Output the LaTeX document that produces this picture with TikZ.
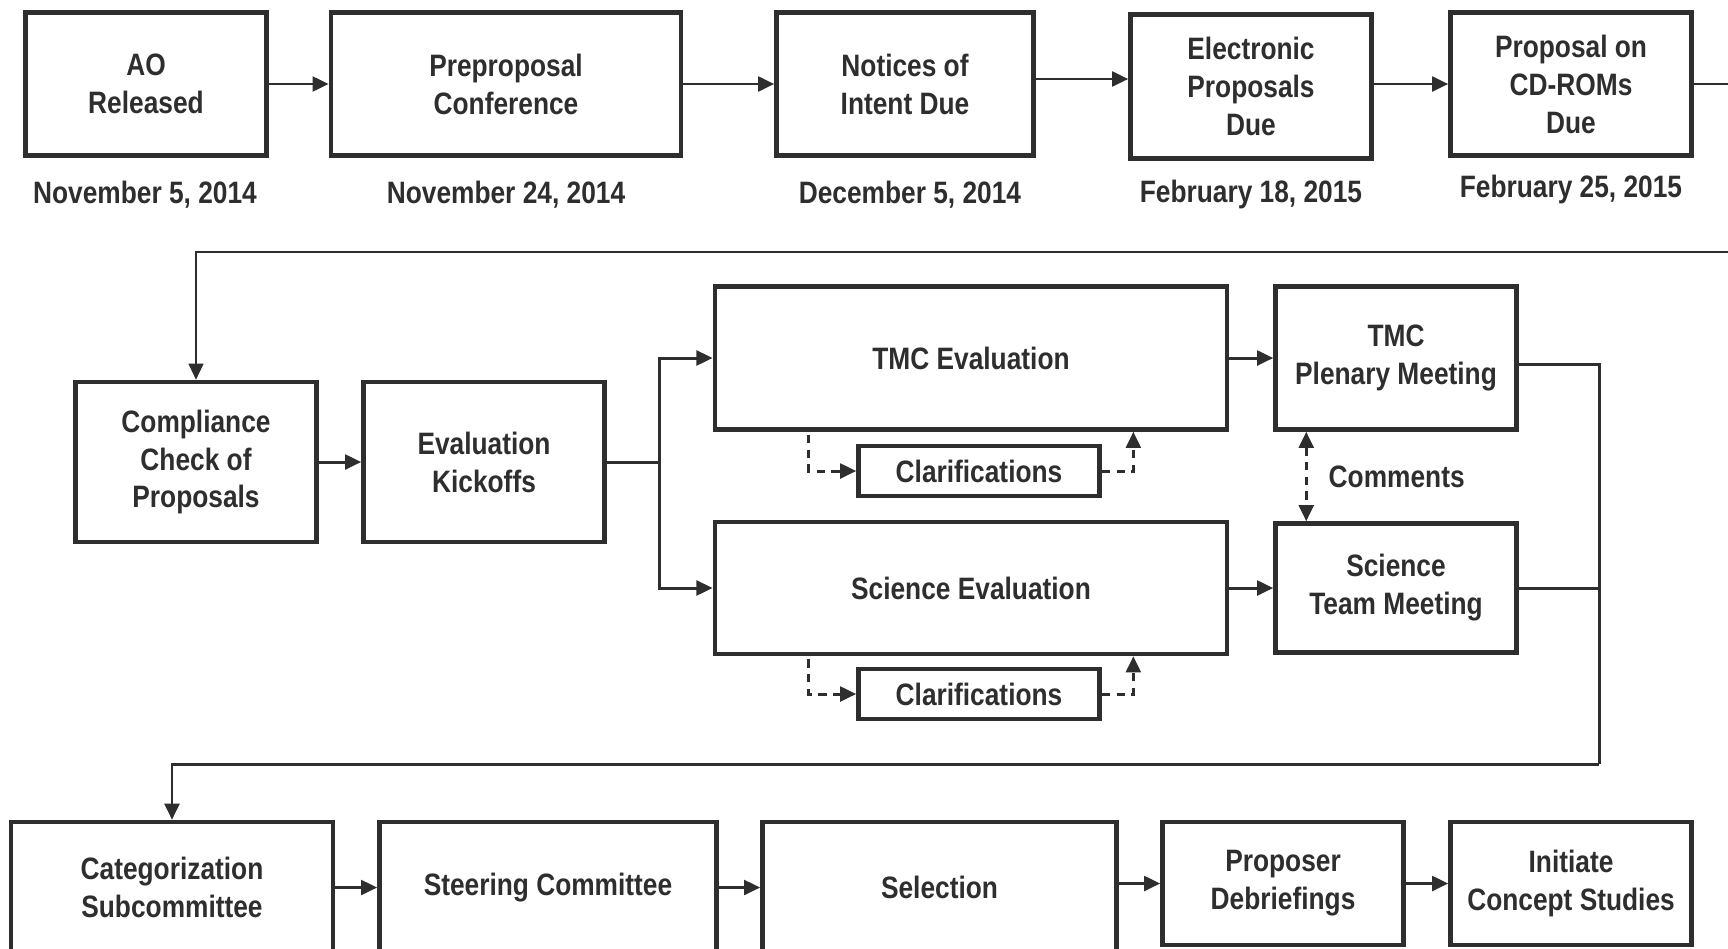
\documentclass[tikz,border=0pt]{standalone}
\usepackage{fontspec}
\setmainfont[FakeStretch=0.85]{Liberation Sans}
\usetikzlibrary{arrows.meta,calc}
\definecolor{ink}{HTML}{2E2E2E}

\begin{document}
\begin{tikzpicture}[x=0.01cm,y=-0.01cm,
  box/.style={draw=ink,line width=1.25pt,fill=white,inner sep=0pt,align=center,text=ink,
    font=\bfseries\fontsize{8.8}{10.8}\selectfont},
  datelabel/.style={text=ink,inner sep=0pt,font=\bfseries\fontsize{8.8}{10.8}\selectfont},
  plain/.style={draw=ink,line width=0.85pt},
  link/.style={plain,-{Triangle[length=4.6pt,width=4.2pt]}},
  dlink/.style={link,dash pattern=on 2.4pt off 1.8pt},
  ddlink/.style={dlink,{Triangle[length=4.6pt,width=4.2pt]}-{Triangle[length=4.6pt,width=4.2pt]}}]
\useasboundingbox (0,0) rectangle (1728,948);
\clip (0,0) rectangle (1728,948);

\node[box,minimum width=2.41cm,minimum height=1.43cm] (ao) at (146,84) {AO\\Released};
\node[box,minimum width=3.50cm,minimum height=1.43cm] (prep) at (506,84) {Preproposal\\Conference};
\node[box,minimum width=2.57cm,minimum height=1.43cm] (noi) at (905,84) {Notices of\\Intent Due};
\node[box,minimum width=2.41cm,minimum height=1.44cm] (elec) at (1251,86.5) {Electronic\\Proposals\\Due};
\node[box,minimum width=2.41cm,minimum height=1.43cm] (cdrom) at (1571,84) {Proposal on\\CD-ROMs\\Due};

\node[datelabel] (ao date) at (145,195) {November 5, 2014};
\node[datelabel] (prep date) at (506,195) {November 24, 2014};
\node[datelabel] (noi date) at (910,195) {December 5, 2014};
\node[datelabel] (elec date) at (1251,194) {February 18, 2015};
\node[datelabel] (cdrom date) at (1571,189.5) {February 25, 2015};

\coordinate (edge top) at (1728,84);
\coordinate (edge back) at (1728,252);

\draw[link] (ao) -- (prep);
\draw[link] (prep) -- (noi);
\draw[link] ([yshift=0.05cm]noi.east) coordinate (noi out) -- (noi out -| elec.west);
\draw[link] (cdrom.west -| elec.east) -- (cdrom.west);
\draw[plain] (cdrom.east) -- (edge top);

\node[box,minimum width=2.41cm,minimum height=1.60cm] (comp) at (196,462) {Compliance\\Check of\\Proposals};
\node[box,minimum width=2.41cm,minimum height=1.60cm] (kick) at (484,462) {Evaluation\\Kickoffs};
\node[box,minimum width=5.12cm,minimum height=1.43cm] (tmc) at (971,358) {TMC Evaluation};
\node[box,minimum width=2.41cm,minimum height=1.43cm] (plen) at (1396,358) {TMC\\Plenary Meeting};
\node[box,minimum width=5.12cm,minimum height=1.32cm] (sci) at (971,588) {Science Evaluation};
\node[box,minimum width=2.41cm,minimum height=1.29cm] (team) at (1396,588) {Science\\Team Meeting};
\node[box,minimum width=2.41cm,minimum height=0.50cm] (clar tmc) at (979,471) {Clarifications};
\node[box,minimum width=2.41cm,minimum height=0.50cm] (clar sci) at (979,694) {Clarifications};
\node[datelabel,anchor=west] (comments) at (1328,477) {Comments};

\coordinate (fork) at (659,462);
\coordinate (bus) at (1599,764);

\draw[link,line width=0.65pt] (edge back) -| (comp.north);
\draw[link] (comp) -- (kick);
\draw[plain] (kick) -- (fork);
\draw[link] (fork) |- (tmc);
\draw[link] (fork) |- (sci);
\draw[link] (tmc) -- (plen);
\draw[link] (sci) -- (team);

\draw[dlink] ($(tmc.south west)+(96,3)$) |- (clar tmc);
\draw[dlink] (clar tmc) -| ($(tmc.south east)+(-96,0)$);
\draw[dlink] ($(sci.south west)+(96,3)$) |- (clar sci);
\draw[dlink] (clar sci) -| ($(sci.south east)+(-96,0)$);
\draw[ddlink] ($(plen.south west)+(33,0)$) -- ($(team.north west)+(33,0)$);

\draw[plain] ($(plen.east)+(0,6)$) -| (bus);
\draw[plain] (team.east) -| (bus);

\node[box,minimum width=3.22cm,minimum height=1.31cm] (cat) at (172,887.5) {Categorization\\Subcommittee};
\node[box,minimum width=3.37cm,minimum height=1.31cm] (steer) at (548,887.5) {Steering Committee};
\node[box,minimum width=3.54cm,minimum height=1.31cm] (sel) at (939.5,887.5) {Selection};
\node[box,minimum width=2.41cm,minimum height=1.23cm] (debrief) at (1283,883.5) {Proposer\\Debriefings};
\node[box,minimum width=2.41cm,minimum height=1.23cm] (concept) at (1571,883.5) {Initiate\\Concept Studies};

\draw[link] (bus) -| (cat.north);
\draw[link] (cat) -- (steer);
\draw[link] (steer) -- (sel);
\draw[link] (sel.east |- debrief.west) -- (debrief.west);
\draw[link] (debrief) -- (concept);

\end{tikzpicture}
\end{document}
